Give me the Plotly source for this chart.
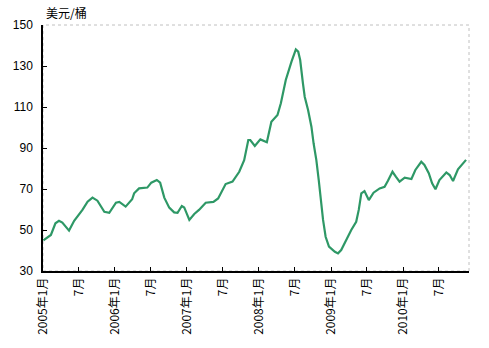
import plotly.graph_objects as go

dates = [
    "2005-01-03", "2005-01-16", "2005-02-10", "2005-03-05", "2005-03-23", "2005-04-09", "2005-05-13",
    "2005-06-08", "2005-07-03", "2005-07-20", "2005-08-15", "2005-09-09", "2005-10-04",
    "2005-11-08", "2005-12-03", "2006-01-06", "2006-01-23", "2006-02-24", "2006-03-29",
    "2006-04-08", "2006-05-03", "2006-06-14", "2006-07-04", "2006-08-01", "2006-08-18",
    "2006-09-08", "2006-10-03", "2006-10-28", "2006-11-14", "2006-12-06", "2006-12-18",
    "2007-01-13", "2007-02-07", "2007-03-03", "2007-04-06", "2007-05-15", "2007-06-08",
    "2007-06-29", "2007-07-16", "2007-08-20", "2007-09-23", "2007-10-18", "2007-11-08",
    "2007-11-18", "2007-12-11", "2008-01-08", "2008-02-10", "2008-03-04", "2008-04-04",
    "2008-04-21", "2008-05-16", "2008-06-14", "2008-07-06", "2008-07-18", "2008-07-28",
    "2008-08-11", "2008-08-20", "2008-09-06", "2008-09-23", "2008-10-04", "2008-10-18",
    "2008-10-30", "2008-11-09", "2008-11-21", "2008-12-04", "2008-12-21", "2009-01-20",
    "2009-02-05", "2009-02-21", "2009-03-18", "2009-04-13", "2009-05-08", "2009-05-21",
    "2009-06-03", "2009-06-19", "2009-07-11", "2009-08-04", "2009-09-04", "2009-09-29",
    "2009-10-16", "2009-11-08", "2009-11-25", "2009-12-14", "2010-01-09", "2010-02-12",
    "2010-03-04", "2010-04-03", "2010-04-19", "2010-05-11", "2010-05-28", "2010-06-14",
    "2010-07-04", "2010-08-08", "2010-08-25", "2010-09-11", "2010-10-06", "2010-11-09",
    "2010-11-16",
]
prices = [
    45.0, 45.8, 47.6, 53.3, 54.5, 53.6, 49.7,
    54.5, 57.6, 59.8, 63.8, 65.8, 64.3,
    58.9, 58.4, 63.3, 63.7, 61.4, 65.0,
    67.9, 70.3, 70.7, 73.1, 74.4, 73.1,
    65.8, 60.9, 58.6, 58.4, 61.7, 61.0,
    54.9, 57.8, 59.8, 63.3, 63.7, 65.4,
    69.5, 72.4, 73.6, 78.4, 84.1, 93.9,
    93.9, 91.0, 94.2, 92.8, 102.8, 106.1,
    111.8, 123.2, 132.1, 138.1, 137.0, 132.9,
    121.5, 115.0, 108.5, 100.4, 92.3, 84.1,
    74.4, 64.6, 54.9, 46.7, 41.9, 39.4,
    38.6, 40.2, 45.1, 50.0, 54.0, 59.8,
    67.9, 69.0, 64.6, 68.2, 70.3, 71.1,
    74.0, 78.4, 76.0, 73.6, 75.5, 74.9,
    79.3, 83.3, 81.7, 77.7, 72.8, 69.9,
    74.4, 78.1, 76.8, 73.9, 79.6, 83.7,
    84.2,
]

tick_dates = [
    "2005-01-01", "2005-07-01", "2006-01-01", "2006-07-01", "2007-01-01", "2007-07-01",
    "2008-01-01", "2008-07-01", "2009-01-01", "2009-07-01", "2010-01-01", "2010-07-01",
]
tick_text = [
    "2005年1月", "7月", "2006年1月", "7月", "2007年1月", "7月",
    "2008年1月", "7月", "2009年1月", "7月", "2010年1月", "7月",
]
y_ticks = [30, 50, 70, 90, 110, 130, 150]
y_unit = "美元/桶"

font_family = "Liberation Sans, Noto Sans CJK SC, sans-serif"

fig = go.Figure()
fig.add_trace(go.Scatter(
    x=dates, y=prices, mode="lines",
    line=dict(color="rgb(46,152,102)", width=2.2),
    showlegend=False, hoverinfo="skip",
))

# dashed plot-area border
fig.add_shape(type="rect", xref="paper", yref="paper", x0=0, y0=0, x1=1, y1=1,
              line=dict(color="#c0c0c0", width=1, dash="dot"), layer="below")

fig.update_layout(
    width=489, height=348,
    margin=dict(l=43, r=20, t=25, b=77),
    paper_bgcolor="white", plot_bgcolor="white",
    font=dict(family=font_family, size=12, color="black"),
    xaxis=dict(
        type="date", range=["2005-01-01", "2010-12-01"],
        tickvals=tick_dates, ticktext=tick_text, tickangle=-90,
        ticks="inside", ticklen=4, tickcolor="black", tickwidth=1,
        showline=True, linecolor="black", linewidth=1.5,
        showgrid=False, zeroline=False,
        tickfont=dict(size=12, family="Noto Sans CJK SC, sans-serif"),
    ),
    yaxis=dict(
        range=[30, 150], tickvals=y_ticks,
        ticks="inside", ticklen=4, tickcolor="black", tickwidth=1,
        showline=True, linecolor="black", linewidth=1.5,
        showgrid=False, zeroline=False,
        tickfont=dict(size=12), ticklabelstandoff=6,
    ),
    annotations=[dict(
        text=y_unit, xref="paper", yref="paper", x=0, y=1,
        xanchor="left", yanchor="bottom", showarrow=False, yshift=2, xshift=1,
        font=dict(size=12, family="Noto Sans CJK SC, sans-serif"),
    )],
)

fig.write_html("out.html")
